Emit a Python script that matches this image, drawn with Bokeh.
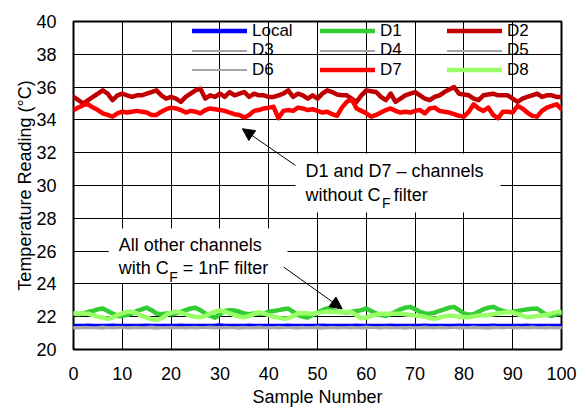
from bokeh.plotting import figure
from bokeh.models import (Range1d, FixedTicker, Legend, LegendItem, Label,
                          Arrow, NormalHead, BoxAnnotation)
from bokeh.embed import file_html
from bokeh.resources import INLINE

FONT = "Liberation Sans"

samples = list(range(101))

local = [21.44, 21.44, 21.44, 21.45, 21.44, 21.44, 21.44, 21.44, 21.45, 21.44,
         21.44, 21.44, 21.44, 21.44, 21.44, 21.45, 21.44, 21.44, 21.44, 21.44,
         21.44, 21.44, 21.45, 21.44, 21.44, 21.44, 21.44, 21.44, 21.44, 21.45,
         21.47, 21.44, 21.44, 21.44, 21.44, 21.44, 21.45, 21.44, 21.44, 21.44,
         21.44, 21.44, 21.44, 21.44, 21.45, 21.44, 21.44, 21.44, 21.44, 21.44,
         21.44, 21.45, 21.44, 21.44, 21.44, 21.44, 21.44, 21.44, 21.45, 21.44,
         21.44, 21.44, 21.44, 21.44, 21.44, 21.45, 21.44, 21.44, 21.44, 21.44,
         21.44, 21.44, 21.45, 21.44, 21.44, 21.44, 21.44, 21.44, 21.44, 21.45,
         21.44, 21.44, 21.44, 21.44, 21.44, 21.44, 21.45, 21.44, 21.44, 21.44,
         21.44, 21.44, 21.44, 21.45, 21.44, 21.44, 21.44, 21.44, 21.44, 21.44,
         21.44]

d1 = [22.20, 22.15, 22.20, 22.30, 22.35, 22.45, 22.50, 22.35, 22.20, 22.05,
      22.05, 22.10, 22.20, 22.35, 22.45, 22.55, 22.40, 22.20, 22.15, 22.20,
      22.15, 22.20, 22.30, 22.40, 22.50, 22.55, 22.40, 22.20, 22.05, 21.95,
      22.15, 22.35, 22.40, 22.38, 22.30, 22.20, 22.15, 22.20, 22.18, 22.20,
      22.30, 22.35, 22.40, 22.45, 22.50, 22.30, 22.10, 22.00, 21.95, 22.10,
      22.25, 22.40, 22.50, 22.40, 22.30, 22.28, 22.25, 22.30, 22.35, 22.40,
      22.50, 22.35, 22.20, 22.10, 22.05, 22.15, 22.30, 22.45, 22.55, 22.60,
      22.45, 22.30, 22.20, 22.18, 22.25, 22.35, 22.45, 22.55, 22.60, 22.40,
      22.20, 22.12, 22.15, 22.30, 22.45, 22.55, 22.60, 22.45, 22.35, 22.28,
      22.30, 22.35, 22.40, 22.45, 22.48, 22.50, 22.30, 22.10, 22.05, 22.15,
      22.22]

d2 = [35.40, 35.20, 35.00, 35.20, 35.40, 35.60, 35.80, 35.60, 35.20, 35.50,
      35.60, 35.50, 35.40, 35.50, 35.50, 35.60, 35.70, 35.80, 35.50, 35.30,
      35.40, 35.30, 35.10, 35.40, 35.60, 35.80, 35.90, 35.30, 35.50, 35.40,
      35.60, 35.40, 35.70, 35.50, 35.60, 35.70, 35.40, 35.60, 35.50, 35.50,
      35.40, 35.40, 35.50, 35.60, 35.80, 35.40, 35.60, 35.50, 35.30, 35.50,
      35.30, 35.60, 35.80, 35.70, 35.55, 35.50, 35.50, 35.30, 35.10, 35.50,
      35.80, 35.75, 35.70, 35.40, 35.20, 35.60, 35.10, 35.30, 35.50, 35.60,
      35.70, 35.50, 35.30, 35.20, 35.40, 35.50, 35.70, 35.85, 36.00, 35.60,
      35.55, 35.50, 35.30, 35.20, 35.50, 35.55, 35.60, 35.50, 35.50, 35.50,
      35.30, 35.10, 35.30, 35.40, 35.50, 35.60, 35.40, 35.50, 35.50, 35.40,
      35.40]

d3 = [21.34, 21.36, 21.33, 21.35, 21.32, 21.34, 21.37, 21.33, 21.35, 21.34,
      21.31, 21.35, 21.36, 21.33, 21.34, 21.32, 21.35, 21.37, 21.34, 21.33,
      21.35, 21.32, 21.34, 21.36, 21.33, 21.35, 21.34, 21.31, 21.34, 21.36,
      21.33, 21.35, 21.32, 21.34, 21.37, 21.33, 21.34, 21.35, 21.32, 21.34,
      21.36, 21.33, 21.35, 21.34, 21.31, 21.35, 21.36, 21.33, 21.34, 21.32,
      21.35, 21.37, 21.34, 21.33, 21.35, 21.32, 21.34, 21.36, 21.33, 21.35,
      21.34, 21.31, 21.34, 21.36, 21.33, 21.35, 21.32, 21.34, 21.37, 21.33,
      21.34, 21.35, 21.32, 21.34, 21.36, 21.33, 21.35, 21.34, 21.31, 21.35,
      21.36, 21.33, 21.34, 21.32, 21.35, 21.37, 21.34, 21.33, 21.35, 21.32,
      21.34, 21.36, 21.33, 21.35, 21.34, 21.31, 21.34, 21.36, 21.33, 21.35,
      21.34]

d4 = [21.30, 21.28, 21.31, 21.29, 21.32, 21.30, 21.27, 21.31, 21.29, 21.30,
      21.33, 21.29, 21.28, 21.31, 21.30, 21.32, 21.29, 21.27, 21.30, 21.31,
      21.29, 21.32, 21.30, 21.28, 21.31, 21.29, 21.30, 21.33, 21.30, 21.28,
      21.31, 21.29, 21.32, 21.30, 21.27, 21.31, 21.30, 21.29, 21.32, 21.30,
      21.28, 21.31, 21.29, 21.30, 21.33, 21.29, 21.28, 21.31, 21.30, 21.32,
      21.29, 21.27, 21.30, 21.31, 21.29, 21.32, 21.30, 21.28, 21.31, 21.29,
      21.30, 21.33, 21.30, 21.28, 21.31, 21.29, 21.32, 21.30, 21.27, 21.31,
      21.30, 21.29, 21.32, 21.30, 21.28, 21.31, 21.29, 21.30, 21.33, 21.29,
      21.28, 21.31, 21.30, 21.32, 21.29, 21.27, 21.30, 21.31, 21.29, 21.32,
      21.30, 21.28, 21.31, 21.29, 21.30, 21.33, 21.30, 21.28, 21.31, 21.29,
      21.30]

d5 = [21.37, 21.35, 21.38, 21.36, 21.34, 21.37, 21.39, 21.36, 21.35, 21.38,
      21.36, 21.34, 21.37, 21.38, 21.35, 21.36, 21.39, 21.37, 21.35, 21.36,
      21.38, 21.36, 21.34, 21.37, 21.36, 21.38, 21.35, 21.37, 21.39, 21.36,
      21.35, 21.38, 21.36, 21.34, 21.37, 21.38, 21.35, 21.36, 21.39, 21.37,
      21.35, 21.36, 21.38, 21.36, 21.34, 21.37, 21.36, 21.38, 21.35, 21.37,
      21.39, 21.36, 21.35, 21.38, 21.36, 21.34, 21.37, 21.38, 21.35, 21.36,
      21.39, 21.37, 21.35, 21.36, 21.38, 21.36, 21.34, 21.37, 21.36, 21.38,
      21.35, 21.37, 21.39, 21.36, 21.35, 21.38, 21.36, 21.34, 21.37, 21.38,
      21.35, 21.36, 21.39, 21.37, 21.35, 21.36, 21.38, 21.36, 21.34, 21.37,
      21.36, 21.38, 21.35, 21.37, 21.39, 21.36, 21.35, 21.38, 21.36, 21.34,
      21.37]

d6 = [21.32, 21.33, 21.31, 21.34, 21.32, 21.30, 21.33, 21.35, 21.32, 21.31,
      21.33, 21.32, 21.34, 21.31, 21.30, 21.33, 21.32, 21.34, 21.35, 21.32,
      21.31, 21.33, 21.32, 21.30, 21.34, 21.32, 21.33, 21.31, 21.32, 21.35,
      21.33, 21.31, 21.32, 21.34, 21.32, 21.30, 21.33, 21.32, 21.31, 21.34,
      21.32, 21.33, 21.35, 21.32, 21.31, 21.33, 21.30, 21.32, 21.34, 21.33,
      21.31, 21.32, 21.34, 21.32, 21.30, 21.33, 21.35, 21.32, 21.31, 21.33,
      21.32, 21.34, 21.31, 21.30, 21.33, 21.32, 21.34, 21.35, 21.32, 21.31,
      21.33, 21.32, 21.30, 21.34, 21.32, 21.33, 21.31, 21.32, 21.35, 21.33,
      21.31, 21.32, 21.34, 21.32, 21.30, 21.33, 21.32, 21.31, 21.34, 21.32,
      21.33, 21.35, 21.32, 21.31, 21.33, 21.30, 21.32, 21.34, 21.33, 21.31,
      21.32]

d7 = [34.60, 34.75, 34.90, 34.95, 34.75, 34.60, 34.40, 34.30, 34.20, 34.40,
      34.50, 34.45, 34.50, 34.55, 34.50, 34.45, 34.30, 34.30, 34.50, 34.65,
      34.75, 34.70, 34.60, 34.45, 34.55, 34.50, 34.40, 34.60, 34.70, 34.65,
      34.60, 34.55, 34.45, 34.35, 34.30, 34.15, 34.30, 34.55, 34.60, 34.70,
      34.75, 34.80, 34.10, 34.55, 34.60, 34.55, 34.75, 34.70, 34.60, 34.65,
      34.55, 34.45, 34.50, 34.35, 34.25, 34.75, 35.10, 35.25, 34.70, 34.55,
      34.40, 34.20, 34.30, 34.45, 34.60, 34.70, 34.55, 34.45, 34.50, 34.45,
      34.55, 34.60, 34.40, 34.70, 34.75, 34.55, 34.50, 34.45, 34.35, 34.25,
      34.20, 34.50, 34.95, 34.70, 34.55, 34.75, 34.30, 34.10, 34.50, 34.50,
      34.45, 34.85, 34.70, 34.45, 34.25, 34.20, 34.55, 34.75, 34.85, 34.95,
      34.65]

d8 = [22.20, 22.20, 22.20, 22.18, 22.10, 22.00, 21.95, 21.87, 21.95, 22.10,
      22.20, 22.30, 22.30, 22.20, 22.05, 21.95, 21.85, 21.80, 21.90, 22.10,
      22.25, 22.32, 22.25, 22.15, 22.05, 22.00, 21.97, 22.05, 22.20, 22.30,
      22.38, 22.30, 22.20, 22.10, 22.00, 21.97, 22.05, 22.15, 22.28, 22.20,
      22.10, 22.00, 21.95, 21.88, 21.90, 22.05, 22.20, 22.22, 22.20, 22.18,
      22.22, 22.28, 22.32, 22.30, 22.28, 22.28, 22.28, 22.28, 22.10, 21.90,
      21.95, 22.05, 22.12, 22.18, 22.18, 22.18, 22.18, 22.18, 22.15, 22.10,
      22.07, 22.05, 22.00, 21.92, 21.87, 21.95, 22.02, 22.07, 22.05, 22.00,
      21.97, 21.97, 22.02, 22.07, 22.07, 22.10, 22.15, 22.20, 22.25, 22.28,
      22.25, 22.15, 22.05, 21.97, 22.00, 22.05, 22.07, 22.12, 22.20, 22.28,
      22.28]

series_names = ["Local", "D1", "D2", "D3", "D4", "D5", "D6", "D7", "D8"]
series_values = [local, d1, d2, d3, d4, d5, d6, d7, d8]
series_colors = ["#0000FF", "#33CC33", "#C00000", "#A6A6A6", "#A6A6A6",
                 "#A6A6A6", "#A6A6A6", "#FF0000", "#99FF66"]
series_widths = [4.5, 4.5, 4.5, 2.2, 2.2, 2.2, 2.2, 4.5, 4.5]

x_ticks = [0, 10, 20, 30, 40, 50, 60, 70, 80, 90, 100]
y_ticks = [20, 22, 24, 26, 28, 30, 32, 34, 36, 38, 40]

p = figure(width=581, height=410,
           x_range=Range1d(0, 100), y_range=Range1d(20, 40),
           output_backend="svg", toolbar_location=None,
           min_border_left=73, min_border_right=20,
           min_border_top=21, min_border_bottom=61)

p.background_fill_color = "white"
p.border_fill_color = "white"
p.outline_line_color = "black"
p.outline_line_width = 2

p.xaxis.ticker = FixedTicker(ticks=x_ticks)
p.yaxis.ticker = FixedTicker(ticks=y_ticks)
for g in (p.xgrid, p.ygrid):
    g.grid_line_color = "black"
    g.grid_line_width = 1
p.xgrid.ticker = FixedTicker(ticks=x_ticks)
p.ygrid.ticker = FixedTicker(ticks=y_ticks)

for ax in (p.xaxis, p.yaxis):
    ax.axis_line_color = None
    ax.major_tick_line_color = None
    ax.minor_tick_line_color = None
    ax.major_label_text_font = FONT
    ax.major_label_text_font_size = "18px"
    ax.major_label_text_color = "black"
    ax.axis_label_text_font = FONT
    ax.axis_label_text_font_size = "18px"
    ax.axis_label_text_font_style = "normal"
    ax.axis_label_text_color = "black"

p.xaxis.axis_label = "Sample Number"
p.yaxis.axis_label = "Temperature Reading (°C)"
p.xaxis.major_label_standoff = 11
p.xaxis.axis_label_standoff = 4
p.yaxis.major_label_standoff = 11
p.yaxis.axis_label_standoff = -2

# annotation white boxes (behind text, above grid)
box1 = BoxAnnotation(left=45.5, right=87.5, bottom=28.35, top=31.95,
                     fill_color="white", fill_alpha=1.0, line_color=None,
                     level="underlay")
box2 = BoxAnnotation(left=7.2, right=43.85, bottom=24.05, top=27.38,
                     fill_color="white", fill_alpha=1.0, line_color=None,
                     level="underlay")
p.add_layout(box1)
p.add_layout(box2)

renderers = {}
for name, vals, col, w in zip(series_names, series_values, series_colors, series_widths):
    r = p.line(samples, vals, line_color=col, line_width=w,
               line_join="round", line_cap="round")
    renderers[name] = r

# legend: 3 columns x 3 rows, one single-item legend per cell
legend_grid = [["Local", "D1", "D2"], ["D3", "D4", "D5"], ["D6", "D7", "D8"]]
col_x = [119, 247, 374]
row_y = [308.5, 289.0, 269.5]
for names, ly in zip(legend_grid, row_y):
    for n, lx in zip(names, col_x):
        lg = Legend(items=[LegendItem(label=n, renderers=[renderers[n]])],
                    location=(lx, ly), orientation="vertical",
                    glyph_width=55, glyph_height=19, label_height=19,
                    label_standoff=5, spacing=0, padding=0, margin=0,
                    border_line_color=None, background_fill_alpha=0,
                    label_text_font=FONT, label_text_font_size="17px",
                    label_text_color="black")
        p.add_layout(lg)

def lab(x, y, t, size="18px"):
    p.add_layout(Label(x=x, y=y, text=t, text_font=FONT, text_font_size=size,
                       text_color="black", text_baseline="alphabetic",
                       text_align="left"))

# first annotation
lab(47.54, 30.87, "D1 and D7 – channels")
lab(47.54, 29.40, "without C")
lab(63.2, 28.92, "F", "14px")
lab(65.6, 29.40, "filter")
p.add_layout(Arrow(end=NormalHead(size=12, fill_color="black", line_color="black"),
                   x_start=45.5, y_start=31.22, x_end=34.6, y_end=33.46,
                   line_color="black", line_width=1))

# second annotation
lab(9.28, 26.39, "All other channels")
lab(9.28, 24.95, "with C")
lab(19.6, 24.45, "F", "14px")
lab(22.4, 24.95, "= 1nF filter")
p.add_layout(Arrow(end=NormalHead(size=12, fill_color="black", line_color="black"),
                   x_start=43.1, y_start=25.02, x_end=55.06, y_end=22.48,
                   line_color="black", line_width=1))

open("out.html", "w").write(file_html(p, INLINE))
